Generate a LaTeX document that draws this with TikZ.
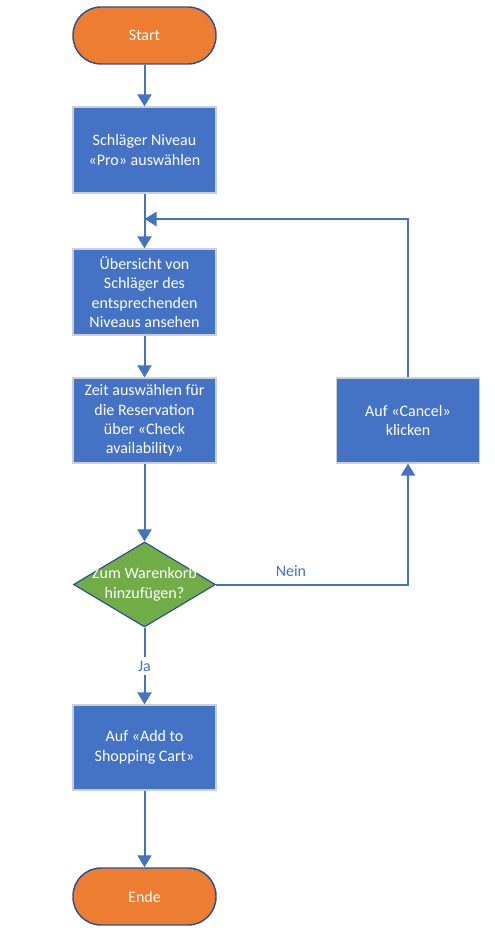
\documentclass[tikz,border=0pt]{standalone}
\usepackage{fontspec}
\setmainfont{Carlito}
\usetikzlibrary{arrows.meta,shapes.geometric}
\definecolor{lineblue}{HTML}{4472C4}
\definecolor{boxblue}{HTML}{4472C4}
\definecolor{termorange}{HTML}{ED7D31}
\definecolor{termborder}{HTML}{2F528F}
\definecolor{decgreen}{HTML}{70AD47}
\definecolor{boxborder}{HTML}{C9CFD9}
\tikzset{
  base/.style={font=\fontsize{12}{14.6}\selectfont, text=white, align=center, inner sep=0pt},
  procbox/.style={base, rectangle, fill=boxblue, draw=boxborder, line width=0.9pt,
    minimum width=107.25pt, minimum height=64.5pt},
  terminal/.style={base, rectangle, rounded corners=21pt, fill=termorange, draw=termborder,
    line width=1.1pt, minimum width=107.25pt, minimum height=42.75pt},
  decision/.style={base, diamond, fill=decgreen, draw=termborder, line width=0.9pt,
    minimum width=106.5pt, minimum height=63.75pt, aspect=1.67},
  arr/.style={draw=lineblue, line width=1.5pt, -{Triangle[width=10.5pt,length=9pt]}},
  lbl/.style={font=\fontsize{12}{14.6}\selectfont, text=lineblue, inner sep=0pt}
}
\begin{document}
\begin{tikzpicture}[x=0.75pt,y=-0.75pt]
\useasboundingbox (0,0) rectangle (495,938);
\node[terminal] (start) at (144.5,35.5) {Start};
\node[procbox] (b1) at (144.5,150) {Schläger Niveau\\«Pro» auswählen};
\node[procbox] (b2) at (144.5,292) {Übersicht von\\Schläger des\\entsprechenden\\Niveaus ansehen};
\node[procbox, minimum height=63.75pt] (b3) at (144.5,420.5) {Zeit auswählen für\\die Reservation\\über «Check\\availability»};
\node[decision, label={[base]center:Zum Warenkorb\\hinzufügen?}] (d) at (144.5,584.5) {};
\node[procbox, minimum height=63.75pt] (b4) at (144.5,747.5) {Auf «Add to\\Shopping Cart»};
\node[terminal] (ende) at (144.5,896.5) {Ende};
\node[procbox, minimum height=63.75pt] (cancel) at (408,420.5) {Auf «Cancel»\\klicken};
\coordinate (join) at (144.5,219);

\draw[arr] (start) -- (b1);
\draw[arr] (b1) -- (b2);
\draw[arr] (b2) -- (b3);
\draw[arr] (b3) -- (d);
\draw[arr] (d) -- node[lbl, fill=white, inner ysep=3pt, inner xsep=1.5pt] {Ja} (b4);
\draw[arr] (b4) -- (ende);
\draw[arr] (d.east) -| node[lbl, pos=0.195, above=5.25pt] {Nein} (cancel.south);
\draw[arr] (cancel.north) |- (join);
\end{tikzpicture}
\end{document}
